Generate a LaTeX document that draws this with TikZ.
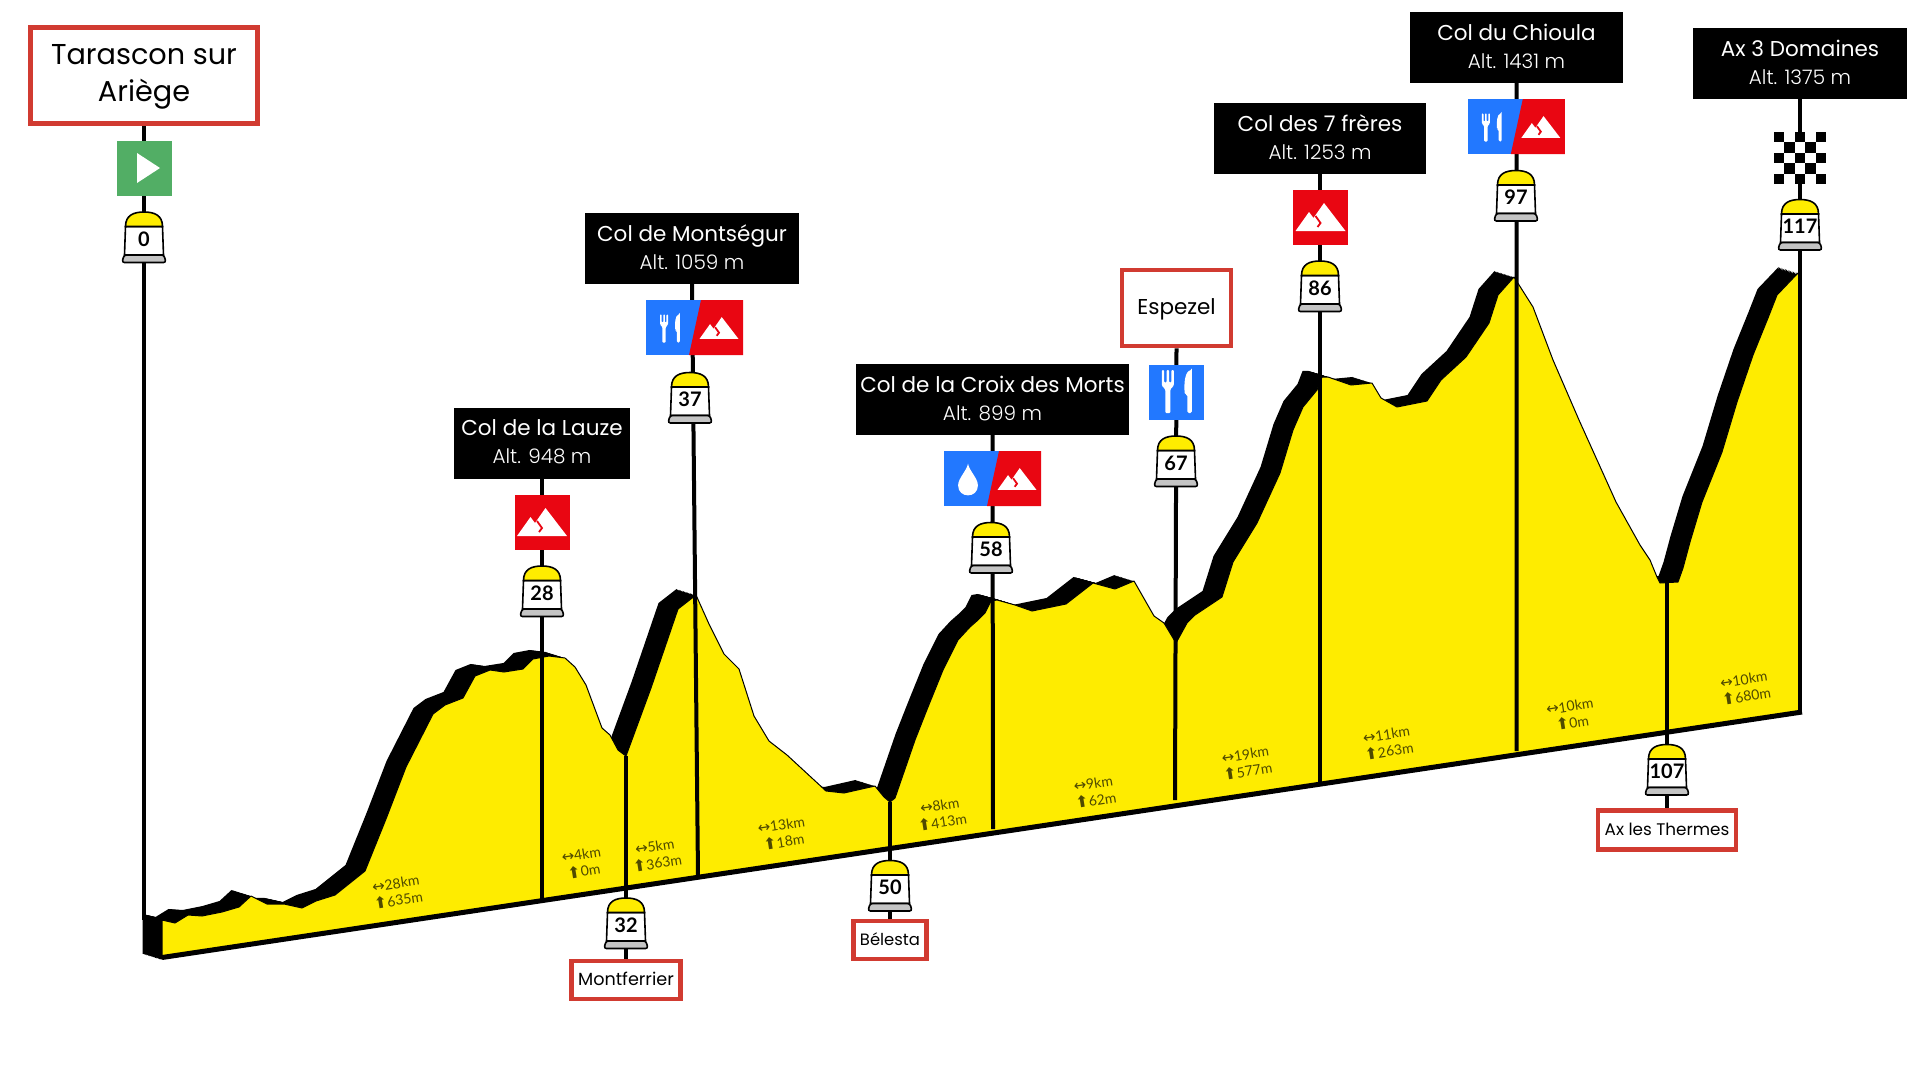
\documentclass[tikz,border=0pt]{standalone}
\usepackage{fontspec}
\usetikzlibrary{backgrounds}

\setmainfont{Poppins}
\newfontfamily\altfont{Poppins Light}
\newfontfamily\chiffres{Lato Bold}
\newfontfamily\petit{Lato}
\newfontfamily\symb{DejaVu Sans}

\definecolor{jaune}{HTML}{FEEC00}
\definecolor{rougecadre}{HTML}{D13B31}
\definecolor{rougeico}{HTML}{E90612}
\definecolor{bleuico}{HTML}{2278FF}
\definecolor{vertico}{HTML}{52AE65}
\definecolor{socle}{HTML}{C4C4C4}
\definecolor{olive}{HTML}{4F4A00}

\newcommand{\etape}[2]{{\symb\fontsize{15}{17}\selectfont ↔}#1\\{\symb\fontsize{16}{17}\selectfont ⬆}#2}

% front edge of the relief, left to right
\def\relief{(162,920) -- (175,923) -- (188,915) -- (202,916) -- (222,912) -- (239,907) -- (251,896)
    -- (267,904) -- (284,904) -- (302,908) -- (316,901) -- (335,895) -- (365,871) -- (386,819)
    -- (406,767) -- (433,714) -- (445,705) -- (463,698) -- (475,676) -- (490,670) -- (504,672)
    -- (523,669) -- (533,659) -- (549,656) -- (565,658) -- (575,667) -- (586,685) -- (602,728)
    -- (610,735) -- (618,750) -- (626,756) -- (651,688) -- (678,609) -- (696,595) -- (709,624) -- (724,654)
    -- (739,669) -- (754,716) -- (769,741) -- (787,755) -- (826,791) -- (844,793) -- (875,786)
    -- (884,797) -- (890,802) -- (895,798) -- (915,740) -- (928,707) -- (943,670) -- (958,640) -- (970,627)
    -- (978,620) -- (985,613) -- (991,601) -- (997,600) -- (1015,605) -- (1032,611) -- (1066,604)
    -- (1093,583) -- (1115,589) -- (1134,581) -- (1154,616) -- (1164,623) -- (1176,643) -- (1187,623)
    -- (1195,615) -- (1222,597) -- (1233,562) -- (1257,523) -- (1280,473) -- (1293,430) -- (1303,407)
    -- (1317,390) -- (1322,377) -- (1328,377) -- (1351,385) -- (1372,383) -- (1381,398) -- (1397,407)
    -- (1427,401) -- (1441,380) -- (1466,357) -- (1489,323) -- (1498,295) -- (1514,277) -- (1533,307)
    -- (1553,360) -- (1579,420) -- (1616,502) -- (1640,545) -- (1650,560) -- (1657,577) -- (1660,583)
    -- (1678,582) -- (1683,568) -- (1690,542) -- (1702,502) -- (1722,452) -- (1737,402) -- (1753,355)
    -- (1768,318) -- (1777,295) -- (1798,273)}

\tikzset{
    ville/.style={draw=rougecadre,fill=white,line width=4.5,align=center,inner sep=0pt},
    col/.style={fill=black,text=white,align=center,inner sep=0pt,text depth=2.4pt},
    icone/.style={inner sep=0pt,minimum width=55,minimum height=55},
    mat/.style={line width=4,black},
    cote/.style={text=olive,align=center,rotate=9,inner sep=0pt,
        font=\petit\fontsize{14}{17}\selectfont},
    sommet/.pic={
        \fill[white] (-25,14) -- (-11.5,-5) -- (-7,1) -- (3.5,-14) -- (25,14) -- cycle;
        \draw[rougeico,line width=1.8] (-5,-1) -- (0,6) -- (-3,10);
    },
    couvert/.pic={
        \fill[white,rounded corners=1] (-15,-21.5) -- (-12.6,-21.5) -- (-12.6,-9) -- (-10.2,-9) -- (-10.2,-21.5)
            -- (-7.8,-21.5) -- (-7.8,-9) -- (-5.4,-9) -- (-5.4,-21.5) -- (-3,-21.5) -- (-3,-6) -- (-6.5,-2)
            -- (-6.5,21.5) -- (-11.5,21.5) -- (-11.5,-2) -- (-15,-6) -- cycle;
        \fill[white,rounded corners=1.5] (15,-21.5) -- (15,21.5) -- (10.5,21.5) -- (10.5,3) -- (8,3)
            .. controls (7,-8) and (8,-20) .. (15,-21.5) -- cycle;
    },
    goutte/.pic={
        \fill[white] (0,-24) .. controls (2,-13) and (15,-2) .. (15,9)
            .. controls (15,29) and (-15,29) .. (-15,9)
            .. controls (-15,-2) and (-2,-13) .. (0,-24) -- cycle;
    },
    double/.pic={
        \node[fill=bleuico,inner sep=0pt,minimum width=97,minimum height=55] (-fond) at (0,0) {};
        \fill[rougeico] (6.5,-27.5) -- (48.5,-27.5) -- (48.5,27.5) -- (-5.5,27.5) -- cycle;
        \pic[scale=.78] at (24.5,.5) {sommet};
        \pic[scale=.66] at (-24.5,1) {#1};
    },
    borne/.pic={
        \draw[line width=1.6,fill=white] (-18.5,14.5) -- (-19.5,43) -- (19.5,43) -- (18.5,14.5) -- cycle;
        \draw[line width=1.6,fill=jaune] (-18.5,14.5) .. controls (-18.5,3) and (-10,0) .. (0,0)
            .. controls (10,0) and (18.5,3) .. (18.5,14.5) -- cycle;
        \draw[line width=1.6,fill=socle,rounded corners=2.5] (-20,43) -- (-22,50.5) -- (22,50.5) -- (20,43) -- cycle;
        \node[inner sep=0pt,font=\chiffres\fontsize{20}{20}\selectfont] (-km) at (0,27) {#1};
    },
}

\begin{document}
\begin{tikzpicture}[x=1pt,y=-1pt,
        font=\fontsize{21.5}{28}\selectfont
        ]
    \useasboundingbox (0,0) rectangle (1920,1080);

    % Cols et villes
    \node[ville,minimum width=227,minimum height=96,font=\fontsize{28.7}{37}\selectfont,text depth=6pt] (Tarascon) at (144,75.5) {Tarascon sur\\Ariège};
    \node[col,minimum width=176,minimum height=71] (Lauze) at (542,443) {Col de la Lauze\\{\altfont\fontsize{20}{28}\selectfont Alt. 948 m}};
    \node[col,minimum width=214,minimum height=71] (Montsegur) at (692,248.5) {Col de Montségur\\{\altfont\fontsize{20}{28}\selectfont Alt. 1059 m}};
    \node[col,minimum width=273,minimum height=71] (Croix) at (992.5,399.5) {Col de la Croix des Morts\\{\altfont\fontsize{20}{28}\selectfont Alt. 899 m}};
    \node[ville,minimum width=109,minimum height=76,text depth=2.1pt] (Espezel) at (1176.5,308) {Espezel};
    \node[col,minimum width=212,minimum height=71] (Freres) at (1320,138) {Col des 7 frères\\{\altfont\fontsize{20}{28}\selectfont Alt. 1253 m}};
    \node[col,minimum width=213,minimum height=71] (Chioula) at (1516.5,47.5) {Col du Chioula\\{\altfont\fontsize{20}{28}\selectfont Alt. 1431 m}};
    \node[col,minimum width=214,minimum height=71] (Domaines) at (1800,63.5) {Ax 3 Domaines\\{\altfont\fontsize{20}{28}\selectfont Alt. 1375 m}};
    \node[ville,minimum width=109,minimum height=38,font=\fontsize{17.6}{20}\selectfont,text depth=2.4pt] (Montferrier) at (626,980) {Montferrier};
    \node[ville,minimum width=73,minimum height=38,font=\fontsize{16.4}{20}\selectfont,text depth=2.4pt] (Belesta) at (890,940) {Bélesta};
    \node[ville,minimum width=138,minimum height=39,font=\fontsize{16.8}{20}\selectfont,text depth=2.4pt] (Thermes) at (1667,830) {Ax les Thermes};

    % Icones
    \node[icone,fill=vertico] (iDepart) at (144.5,168) {};
    \fill[white] (137,153) -- (160,168) -- (137,183) -- cycle;
    \node[icone,fill=rougeico] (iLauze) at (542,522) {};
    \pic at (542,522) {sommet};
    \pic (iMontsegur) at (694.5,327.5) {double=couvert};
    \pic (iCroix) at (992.5,478.5) {double=goutte};
    \node[icone,fill=bleuico] (iEspezel) at (1176.5,392) {};
    \pic at (1176.8,391.5) {couvert};
    \node[icone,fill=rougeico] (iFreres) at (1320.5,217) {};
    \pic at (1320.5,217) {sommet};
    \pic (iChioula) at (1516.3,126.5) {double=couvert};
    \node[icone,fill=white,minimum width=52,minimum height=52] (iArrivee) at (1800,158) {};
    \foreach \i in {0,...,4}
        \foreach \j in {0,...,4} {
            \pgfmathparse{int(mod(\i+\j,2))}
            \ifnum\pgfmathresult=0
                \fill[black] (1774+10.4*\i,132+10.4*\j) rectangle ++(10.4,10.4);
            \fi
        }

    % Bornes
    \pic (b0) at (144,212) {borne=0};
    \pic (b28) at (542,566) {borne=28};
    \pic (b32) at (626,898) {borne=32};
    \pic (b37) at (690,372.5) {borne=37};
    \pic (b50) at (890,860.5) {borne=50};
    \pic (b58) at (991,522.5) {borne=58};
    \pic (b67) at (1176,436) {borne=67};
    \pic (b86) at (1320,261) {borne=86};
    \pic (b97) at (1516,170.5) {borne=97};
    \pic (b107) at (1667,744.5) {borne=107};
    \pic (b117) at (1800,199.5) {borne=117};

    % Distances et denivele
    \node[cote] (s0) at (397,892) {\etape{28km}{635m}};
    \node[cote] (s28) at (582.5,863) {\etape{4km}{0m}};
    \node[cote] (s32) at (656,855) {\etape{5km}{363m}};
    \node[cote] (s37) at (782.5,833.5) {\etape{13km}{18m}};
    \node[cote] (s50) at (941,814) {\etape{8km}{413m}};
    \node[cote] (s58) at (1094.5,792) {\etape{9km}{62m}};
    \node[cote] (s67) at (1246.5,763) {\etape{19km}{577m}};
    \node[cote] (s86) at (1387.7,743) {\etape{11km}{263m}};
    \node[cote] (s97) at (1571,714.6) {\etape{10km}{0m}};
    \node[cote] (s107) at (1745,688) {\etape{10km}{680m}};

    % Pieds des mats
    \coordinate (f0) at (144,920);
    \coordinate (f28) at (542,901);
    \coordinate (f37) at (698,876);
    \coordinate (f58) at (993,829);
    \coordinate (f67) at (1175,800);
    \coordinate (f86) at (1320,783);
    \coordinate (f97) at (1516.7,751);
    \coordinate (f117) at (1800,712);
    \coordinate (v32) at (626,756);
    \coordinate (v50) at (890,802);
    \coordinate (v107) at (1667,583);

    \begin{scope}[on background layer]
        % Relief
        \foreach \k in {1,...,14}
            \fill[black,line join=round,shift={(-1.39*\k,-.43*\k)}] \relief -- (1798,712) -- (162,960) -- cycle;
        \draw[fill=jaune,line width=1,line join=round] \relief -- (1800,273) -- (1800,712) -- (162,957) -- cycle;
        \draw[line width=5] (162,957.5) -- (1802,712);
        \draw[line width=4.5] (1800,273) -- (1800,714);

        % Mats
        \draw[mat] (Tarascon.south) -- (f0);
        \draw[mat] (Lauze.south) -- (f28);
        \draw[mat] (Montsegur.south) -- (f37);
        \draw[mat] (Croix.south) -- (f58);
        \draw[mat] (Espezel.south) -- (f67);
        \draw[mat] (Freres.south) -- (f86);
        \draw[mat] (Chioula.south) -- (f97);
        \draw[mat] (Domaines.south) -- (f117);
        \draw[mat] (v32) -- (Montferrier.north);
        \draw[mat] (v50) -- (Belesta.north);
        \draw[mat] (v107) -- (Thermes.north);
    \end{scope}

\end{tikzpicture}
\end{document}
